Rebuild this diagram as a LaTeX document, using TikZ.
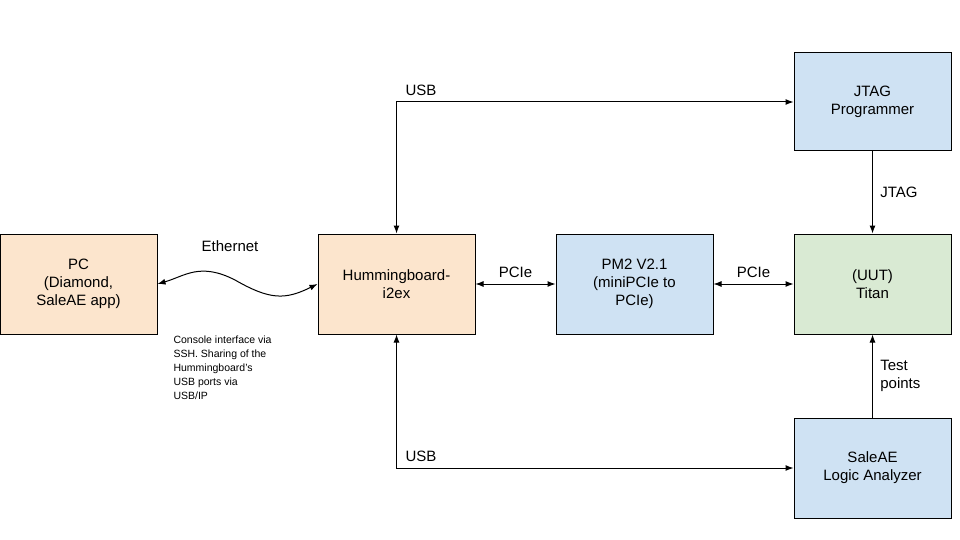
\documentclass[tikz,border=0pt]{standalone}
\usepackage{fontspec}
\setmainfont{Liberation Sans}
\usetikzlibrary{arrows.meta}
\definecolor{orng}{HTML}{FCE5CD}
\definecolor{blu}{HTML}{CFE2F3}
\definecolor{grn}{HTML}{D9EAD3}
\begin{document}
\begin{tikzpicture}[x=1pt,y=-1pt,
  box/.style={draw=black,line width=1pt,minimum width=157pt,minimum height=100pt,align=center,font=\fontsize{15}{18}\selectfont,inner sep=2pt},
  conn/.style={line width=1pt,{Latex[length=8pt,width=6pt]}-{Latex[length=8pt,width=6pt]}},
  lab/.style={font=\fontsize{15}{18}\selectfont}]
\useasboundingbox (0,0) rectangle (960,540);
\node[box,fill=orng] (pc) at (78.5,284) {PC\\(Diamond,\\SaleAE app)};
\node[box,fill=orng] (hb) at (396.5,284) {Hummingboard-\\i2ex};
\node[box,fill=blu] (pm) at (634.5,284) {PM2 V2.1\\(miniPCIe to\\PCIe)};
\node[box,fill=grn] (ti) at (872.5,284) {(UUT)\\Titan};
\node[box,fill=blu,minimum height=98pt] (jt) at (872.5,102) {JTAG\\Programmer};
\node[box,fill=blu] (sa) at (872.5,468) {SaleAE\\Logic Analyzer};
\draw[conn] (pc.east) .. controls (185,276) and (200,262) .. (235,280) .. controls (270,300) and (285,300) .. (hb.west);
\node[lab] (eth) at (230,246) {Ethernet};
\node[font=\fontsize{10.5}{14}\selectfont,align=left,anchor=north west] (cons) at (170,332) {Console interface via\\SSH. Sharing of the\\Hummingboard's\\USB ports via\\USB/IP};
\draw[conn] (hb.east) -- (pm.west) node[lab,midway,above=3pt] (l1) {PCIe};
\draw[conn] (pm.east) -- (ti.west) node[lab,midway,above=3pt] (l2) {PCIe};
\draw[conn] (hb.north) |- (jt.west) node[lab,pos=0.6,above,anchor=south west] (u1) at (400,100) {};
\node[lab,anchor=west] (u1t) at (402,90) {USB};
\draw[conn] (hb.south) |- (sa.west);
\node[lab,anchor=west] (u2t) at (402,456) {USB};
\draw[line width=1pt,-{Latex[length=8pt,width=6pt]}] (jt.south) -- (ti.north) node[lab,midway,right=4pt] (jl) {JTAG};
\draw[line width=1pt,-{Latex[length=8pt,width=6pt]}] (sa.north) -- (ti.south) node[lab,midway,right=4pt,align=left] (tp) {Test\\points};
\end{tikzpicture}
\end{document}
